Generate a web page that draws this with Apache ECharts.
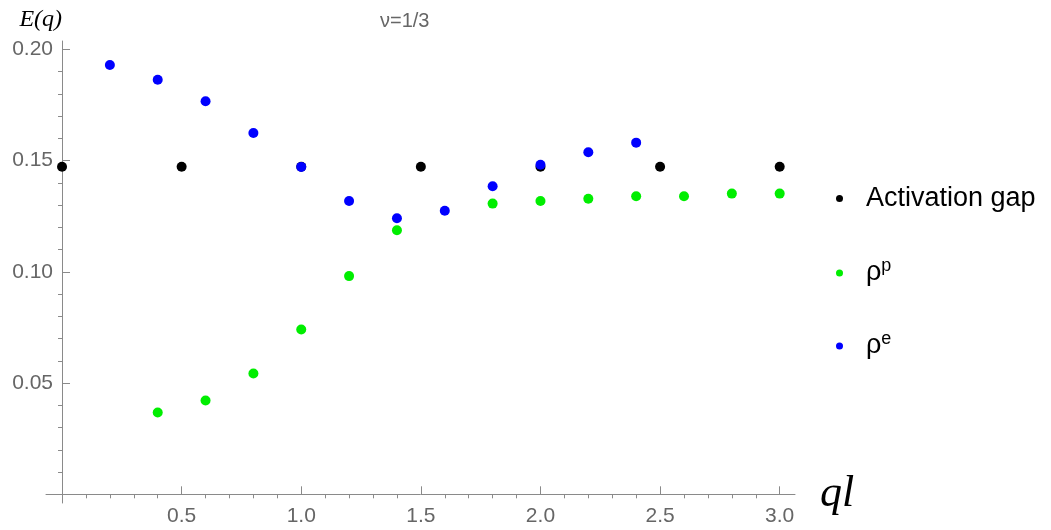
<!DOCTYPE html>
<html>
<head>
<meta charset="utf-8">
<script src="https://cdn.jsdelivr.net/npm/echarts@6/dist/echarts.min.js"></script>
<style>html,body{margin:0;padding:0;background:#fff}#c{width:1051px;height:530px}</style>
</head>
<body>
<div id="c"></div>
<script>
// ---- data ----
const gapX = [0, 0.5, 1.0, 1.5, 2.0, 2.5, 3.0];
const gapY = [0.1473, 0.1473, 0.1473, 0.1473, 0.1473, 0.1473, 0.1473];
const rhoPX = [0.4, 0.6, 0.8, 1.0, 1.2, 1.4, 1.8, 2.0, 2.2, 2.4, 2.6, 2.8, 3.0];
const rhoPY = [0.0368, 0.0422, 0.0543, 0.0741, 0.0981, 0.1187, 0.1307, 0.1319, 0.1329, 0.1340, 0.1340, 0.1352, 0.1352];
const rhoEX = [0.2, 0.4, 0.6, 0.8, 1.0, 1.2, 1.4, 1.6, 1.8, 2.0, 2.2, 2.4];
const rhoEY = [0.1930, 0.1864, 0.1767, 0.1624, 0.1472, 0.1319, 0.1241, 0.1275, 0.1385, 0.1482, 0.1538, 0.1581];
const seriesNames = ['Activation gap', 'ρ^p', 'ρ^e'];
const xMajorTicks = [0.5, 1.0, 1.5, 2.0, 2.5, 3.0];
const xMinorTicks = [0.1, 0.2, 0.3, 0.4, 0.6, 0.7, 0.8, 0.9, 1.1, 1.2, 1.3, 1.4, 1.6, 1.7, 1.8, 1.9, 2.1, 2.2, 2.3, 2.4, 2.6, 2.7, 2.8, 2.9];
const yMajorTicks = [0.05, 0.10, 0.15, 0.20];
const yMinorTicks = [0.01, 0.02, 0.03, 0.04, 0.06, 0.07, 0.08, 0.09, 0.11, 0.12, 0.13, 0.14, 0.16, 0.17, 0.18, 0.19];
const titleText = 'ν=1/3';

// ---- chart ----
const SANS = '"Liberation Sans", Arial, sans-serif';
const SERIF = '"Liberation Serif", "Times New Roman", serif';
const AXIS_COLOR = '#8a8a8a';
const X_MIN = -0.067, X_MAX = 3.064, Y_MIN = -0.0039, Y_MAX = 0.2038;

const zip = (xs, ys) => xs.map((x, i) => [x, ys[i]]);

const baseX = {
  type: 'value', min: X_MIN, max: X_MAX, splitLine: { show: false },
  axisLine: { onZero: true, onZeroAxisIndex: 0, lineStyle: { color: AXIS_COLOR, width: 1 } }
};
const baseY = {
  type: 'value', min: Y_MIN, max: Y_MAX, splitLine: { show: false },
  axisLine: { onZero: true, onZeroAxisIndex: 0, lineStyle: { color: AXIS_COLOR, width: 1 } }
};

const legendRich = {
  a: { fontSize: 27, fontFamily: SANS, color: '#000', padding: [0, 0, 0, 18], lineHeight: 32 },
  s: { fontSize: 18, fontFamily: SANS, color: '#000', verticalAlign: 'top', lineHeight: 20 }
};
const legendFmt = name => name === 'Activation gap'
  ? '{a|Activation gap}'
  : '{a|ρ}{s|' + name.split('^')[1] + '}';
const mkLegend = (name, top) => ({
  data: [name], left: 836, top: top, orient: 'vertical', padding: 0,
  itemWidth: 7, itemHeight: 7, icon: 'circle', selectedMode: false,
  formatter: legendFmt, textStyle: { rich: legendRich }
});

const chart = echarts.init(document.getElementById('c'), null, { renderer: 'canvas' });
chart.setOption({
  animation: false,
  backgroundColor: '#fff',
  title: {
    text: titleText, left: 375, top: 6,
    textStyle: { fontSize: 20, fontWeight: 'normal', color: '#666', fontFamily: SANS }
  },
  legend: [mkLegend(seriesNames[0], 185), mkLegend(seriesNames[1], 257), mkLegend(seriesNames[2], 330)],
  grid: { left: 46, right: 256, top: 41, bottom: 27, containLabel: false, outerBoundsMode: 'none' },
  xAxis: [
    Object.assign({}, baseX, {
      name: 'ql', nameLocation: 'end', nameGap: 25,
      nameTextStyle: { fontFamily: SERIF, fontStyle: 'italic', fontSize: 44, color: '#000', verticalAlign: 'middle' },
      axisTick: { show: true, inside: true, length: 8, customValues: xMajorTicks, lineStyle: { color: AXIS_COLOR } },
      axisLabel: { show: true, customValues: xMajorTicks, margin: 3, fontSize: 21, color: '#666', fontFamily: SANS,
        formatter: v => v.toFixed(1) }
    }),
    Object.assign({}, baseX, {
      axisLine: { show: false, onZero: true, onZeroAxisIndex: 0 },
      axisTick: { show: true, inside: true, length: 4, customValues: xMinorTicks, lineStyle: { color: AXIS_COLOR } },
      axisLabel: { show: false }
    })
  ],
  yAxis: [
    Object.assign({}, baseY, {
      name: 'E(q)', nameLocation: 'end', nameGap: 9,
      nameTextStyle: { fontFamily: SERIF, fontStyle: 'italic', fontSize: 24, color: '#000', align: 'right' },
      axisTick: { show: true, inside: true, length: 8, customValues: yMajorTicks, lineStyle: { color: AXIS_COLOR } },
      axisLabel: { show: true, customValues: yMajorTicks, margin: -7, fontSize: 21, color: '#666', fontFamily: SANS,
        formatter: v => v.toFixed(2) }
    }),
    Object.assign({}, baseY, {
      axisLine: { show: false, onZero: true, onZeroAxisIndex: 0 },
      axisTick: { show: true, inside: true, length: 4, customValues: yMinorTicks, lineStyle: { color: AXIS_COLOR } },
      axisLabel: { show: false }
    })
  ],
  series: [
    { name: seriesNames[0], type: 'scatter', symbol: 'circle', symbolSize: 10, itemStyle: { color: '#000000', opacity: 1 },
      data: zip(gapX, gapY), xAxisIndex: 0, yAxisIndex: 0 },
    { name: seriesNames[1], type: 'scatter', symbol: 'circle', symbolSize: 10, itemStyle: { color: '#00ee00', opacity: 1 },
      data: zip(rhoPX, rhoPY), xAxisIndex: 0, yAxisIndex: 0 },
    { name: seriesNames[2], type: 'scatter', symbol: 'circle', symbolSize: 10, itemStyle: { color: '#0000ff', opacity: 1 },
      data: zip(rhoEX, rhoEY), xAxisIndex: 0, yAxisIndex: 0 }
  ]
});
</script>
</body>
</html>
